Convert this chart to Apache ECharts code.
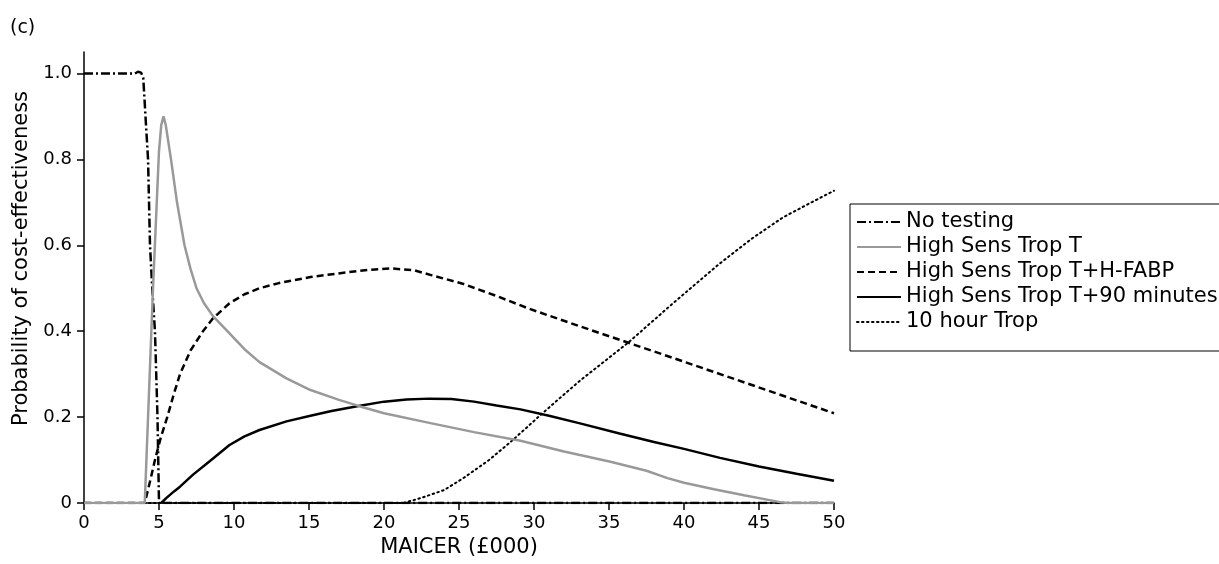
<!DOCTYPE html>
<html>
<head>
<meta charset="utf-8">
<script src="https://cdn.jsdelivr.net/npm/echarts@6/dist/echarts.min.js"></script>
<style>
html,body{margin:0;padding:0;background:#fff;}
#chart{width:1219px;height:564px;}
</style>
</head>
<body>
<div id="chart"></div>
<script>
// ---- Data ----
const seriesNames = ['No testing', 'High Sens Trop T', 'High Sens Trop T+H-FABP', 'High Sens Trop T+90 minutes', '10 hour Trop'];

const noTestX = [0, 3.4, 3.6, 3.8, 3.95, 4.05, 4.15, 4.27, 4.4, 4.55, 4.73, 4.9, 5.0, 50];
const noTestY = [1.0, 1.0, 1.004, 1.002, 0.99, 0.93, 0.87, 0.8, 0.6, 0.5, 0.4, 0.2, 0, 0];

const hsX = [0, 4.05, 4.6, 5.0, 5.15, 5.3, 5.45, 5.8, 6.2, 6.7, 7.1, 7.5, 8.0, 8.6, 9.7, 10.7, 11.7, 13.5, 15.1, 17, 18.3, 20, 23.1, 26, 29.1, 32, 35.1, 37.5, 38.9, 40, 42, 44, 46.4, 47, 50];
const hsY = [0, 0, 0.5, 0.82, 0.88, 0.9, 0.88, 0.8, 0.7, 0.6, 0.545, 0.5, 0.465, 0.435, 0.395, 0.358, 0.328, 0.29, 0.263, 0.24, 0.226, 0.209, 0.186, 0.165, 0.145, 0.12, 0.096, 0.075, 0.058, 0.047, 0.032, 0.018, 0.002, 0, 0];

const fabpX = [0, 4.05, 4.4, 4.73, 5.1, 5.55, 6.0, 6.4, 7.1, 7.93, 8.6, 9.7, 10.7, 11.7, 13, 15.1, 17.5, 19, 20.5, 22, 23.2, 25.3, 27.5, 29.7, 33, 36.3, 40, 43, 46, 50];
const fabpY = [0, 0, 0.05, 0.1, 0.15, 0.2, 0.255, 0.3, 0.355, 0.4, 0.43, 0.465, 0.486, 0.5, 0.512, 0.526, 0.537, 0.543, 0.546, 0.542, 0.53, 0.51, 0.482, 0.452, 0.412, 0.373, 0.329, 0.293, 0.257, 0.209];

const min90X = [5.15, 5.5, 6.0, 6.4, 7.27, 8.4, 9.7, 10.7, 11.7, 13.5, 15.1, 16.5, 18.3, 20, 21.5, 23, 24.5, 26, 27.5, 29.1, 31, 33, 35.7, 38, 40, 42.4, 45, 47.5, 50];
const min90Y = [0, 0.012, 0.027, 0.038, 0.066, 0.098, 0.135, 0.155, 0.17, 0.19, 0.203, 0.214, 0.226, 0.236, 0.241, 0.243, 0.242, 0.236, 0.227, 0.218, 0.203, 0.186, 0.162, 0.142, 0.126, 0.105, 0.085, 0.068, 0.052];

const hr10X = [0, 21.3, 22.5, 24, 25.3, 27, 28.6, 30.6, 33, 36.3, 39.5, 42.4, 44.5, 46.6, 48.5, 50];
const hr10Y = [0, 0, 0.012, 0.03, 0.058, 0.1, 0.147, 0.21, 0.283, 0.374, 0.472, 0.558, 0.615, 0.665, 0.7, 0.727];

const xTicks = [0, 5, 10, 15, 20, 25, 30, 35, 40, 45, 50];
const yTicks = [0, 0.2, 0.4, 0.6, 0.8, 1.0];

function pairs(xs, ys) { return xs.map((x, i) => [x, ys[i]]); }

const FONT = 'DejaVu Sans';
const chart = echarts.init(document.getElementById('chart'), null, {renderer: 'canvas'});

chart.setOption({
  animation: false,
  backgroundColor: '#fff',
  textStyle: {fontFamily: FONT, color: '#000'},
  title: {
    text: '(c)', left: 5, top: 14,
    textStyle: {fontFamily: FONT, fontSize: 19, fontWeight: 'normal', color: '#000'}
  },
  grid: {left: 84, top: 52, width: 750, height: 451, containLabel: false},
  legend: {
    orient: 'vertical', left: 850, top: 204,
    data: seriesNames,
    itemWidth: 44, itemHeight: 14, itemGap: 3,
    padding: [7, 10, 18, 6],
    borderColor: '#000', borderWidth: 1,
    itemStyle: {opacity: 0, borderWidth: 0},
    textStyle: {fontFamily: FONT, fontSize: 21, color: '#000', lineHeight: 22}
  },
  xAxis: {
    type: 'value', min: 0, max: 50, interval: 5,
    name: 'MAICER (£000)', nameLocation: 'middle', nameGap: 33,
    nameTextStyle: {fontFamily: FONT, fontSize: 21, color: '#000'},
    axisLine: {onZero: false, lineStyle: {color: '#000', width: 1.5}},
    axisTick: {show: true, length: 7, customValues: xTicks, lineStyle: {color: '#000', width: 1.5}},
    axisLabel: {fontFamily: FONT, fontSize: 18, color: '#000', margin: 11, customValues: xTicks},
    splitLine: {show: false}
  },
  yAxis: {
    type: 'value', min: 0, max: 1.05, interval: 0.2,
    name: 'Probability of cost-effectiveness', nameLocation: 'middle', nameGap: 52,
    nameTextStyle: {fontFamily: FONT, fontSize: 21, color: '#000', padding: [0, 0, 0, 38]},
    axisLine: {lineStyle: {color: '#000', width: 1.5}},
    axisTick: {show: true, length: 7, customValues: yTicks, lineStyle: {color: '#000', width: 1.5}},
    axisLabel: {
      fontFamily: FONT, fontSize: 18, color: '#000', margin: 12,
      customValues: yTicks,
      formatter: v => (v === 0 ? '0' : v.toFixed(1))
    },
    splitLine: {show: false}
  },
  series: [
    {
      name: seriesNames[4], type: 'line', data: pairs(hr10X, hr10Y),
      symbol: 'none', smooth: false, z: 2,
      lineStyle: {color: '#000', width: 2, type: [1.5, 3.5], cap: 'round'},
      itemStyle: {color: '#000'}
    },
    {
      name: seriesNames[3], type: 'line', data: pairs(min90X, min90Y),
      symbol: 'none', smooth: false, z: 3,
      lineStyle: {color: '#000', width: 2.5, type: 'solid'},
      itemStyle: {color: '#000'}
    },
    {
      name: seriesNames[2], type: 'line', data: pairs(fabpX, fabpY),
      symbol: 'none', smooth: false, z: 3,
      lineStyle: {color: '#000', width: 2.5, type: [7, 4]},
      itemStyle: {color: '#000'}
    },
    {
      name: seriesNames[0], type: 'line', data: pairs(noTestX, noTestY),
      symbol: 'none', smooth: false, z: 4,
      lineStyle: {color: '#000', width: 2.5, type: [9, 3, 2, 3]},
      itemStyle: {color: '#000'}
    },
    {
      name: seriesNames[1], type: 'line', data: pairs(hsX, hsY),
      symbol: 'none', smooth: false, z: 5,
      lineStyle: {color: '#999', width: 2.5, type: 'solid'},
      itemStyle: {color: '#999'}
    }
  ]
});
</script>
</body>
</html>
